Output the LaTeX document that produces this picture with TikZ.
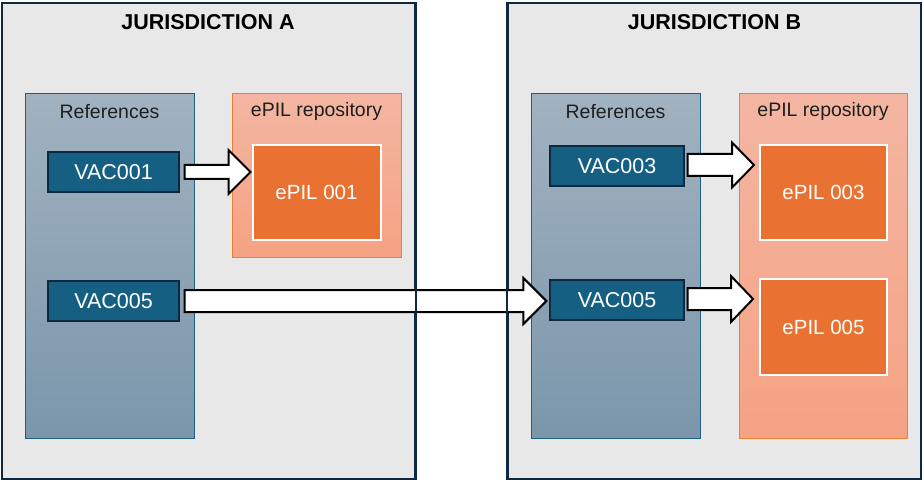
\documentclass[tikz,border=0pt]{standalone}
\usepackage{fontspec}
\setmainfont{Liberation Sans}
\usetikzlibrary{calc}
\definecolor{navy}{HTML}{0E2841}
\definecolor{panel}{HTML}{E8E8E8}
\definecolor{refTop}{HTML}{A1B2C0}
\definecolor{refBot}{HTML}{7B96AB}
\definecolor{refEdge}{HTML}{1F6085}
\definecolor{repTop}{HTML}{F4B6A2}
\definecolor{repBot}{HTML}{F5A283}
\definecolor{repEdge}{HTML}{ED7D31}
\definecolor{epil}{HTML}{E97132}
\definecolor{vac}{HTML}{156082}
\tikzset{
  jur/.style={draw=navy, fill=panel, line width=2pt, minimum width=#1, minimum height=476pt, inner sep=0pt},
  jborder/.style={draw=navy, line width=2pt},
  jtitle/.style={font=\fontsize{21.5}{24}\selectfont\bfseries, text=black},
  refbox/.style={draw=refEdge, line width=1pt, top color=refTop, bottom color=refBot, minimum width=169pt, minimum height=344pt, inner sep=0pt},
  repbox/.style={draw=repEdge, line width=1pt, top color=repTop, bottom color=repBot, minimum width=169pt, inner sep=0pt},
  clabel/.style={font=\fontsize{19.5}{22}\selectfont, text=black!88},
  vacbox/.style={draw=navy, line width=1.2pt, fill=vac, text=white, minimum height=40pt, inner sep=0pt, font=\fontsize{21.5}{24}\selectfont},
  epilbox/.style={draw=white, line width=2pt, fill=epil, text=white, minimum width=128pt, inner sep=0pt, font=\fontsize{20.5}{24}\selectfont},
  barrow/.style={draw=black, fill=white, line width=2pt, line join=miter},
}
% block arrow: start, tip, shaft half, head half, head length
\newcommand\blockarr[5]{%
  \draw[barrow] let \p1=(#1), \p2=(#2) in
    (\x1,\y1+#3) -- (\x2-#5,\y1+#3) -- (\x2-#5,\y1+#4) -- (\x2,\y1)
    -- (\x2-#5,\y1-#4) -- (\x2-#5,\y1-#3) -- (\x1,\y1-#3) -- cycle;}
\begin{document}
\begin{tikzpicture}[x=1pt,y=-1pt]
\useasboundingbox (0,0) rectangle (924,481);
% Jurisdiction A
\node[jur=413pt] (jA) at (208,241) {};
\node[jtitle] (tA) at (208,22) {JURISDICTION A};
\node[refbox] (refA) at (109.5,266) {};
\node[clabel] (refAl) at (109.5,111.5) {References};
\node[repbox, minimum height=164pt] (repA) at (316.5,176) {};
\node[clabel] (repAl) at (316.5,111.5) {ePIL repository};
\node[epilbox, minimum height=95pt] (e1) at (316.5,192.5) {ePIL 001};
\node[vacbox, minimum width=131pt] (v1) at (113.5,172) {VAC001};
\node[vacbox, minimum width=131pt] (v5a) at (113.5,301) {VAC005};
% Jurisdiction B
\node[jur=413pt] (jB) at (714.5,241) {};
\node[jtitle] (tB) at (714.5,22) {JURISDICTION B};
\node[refbox] (refB) at (615.5,266) {};
\node[clabel] (refBl) at (615.5,111.5) {References};
\node[repbox, minimum width=168pt, minimum height=344pt] (repB) at (823,266) {};
\node[clabel] (repBl) at (823,111.5) {ePIL repository};
\node[epilbox, minimum width=127pt, minimum height=95pt] (e3) at (823.5,192.5) {ePIL 003};
\node[epilbox, minimum width=127pt, minimum height=96pt] (e5) at (823.5,327) {ePIL 005};
\node[vacbox, minimum width=134pt] (v3) at (617,166) {VAC003};
\node[vacbox, minimum width=134pt] (v5b) at (617,300) {VAC005};
% arrows
\coordinate (a1s) at ($(v1.east)+(5,0)$);
\coordinate (a1t) at ($(e1.west)+(-1,0)$);
\blockarr{a1s}{a1t}{7}{22}{22}
\coordinate (a2s) at ($(v5a.east)+(5,0)$);
\coordinate (a2t) at ($(v5b.west)+(-3,0)$);
\blockarr{a2s}{a2t}{11}{23}{23}
\coordinate (a3s) at ($(v3.east)+(3,-1)$);
\coordinate (a3t) at ($(e3.west)+(-5,0)$);
\blockarr{a3s}{a3t}{11}{22.5}{22}
\coordinate (a4s) at ($(v5b.east)+(3,-1)$);
\coordinate (a4t) at ($(e5.west)+(-6,0)$);
\blockarr{a4s}{a4t}{11}{23}{22}
% jurisdiction borders show through the long arrow
\draw[jborder] (jA.north east) -- (jA.south east);
\draw[jborder] (jB.north west) -- (jB.south west);
\end{tikzpicture}
\end{document}
